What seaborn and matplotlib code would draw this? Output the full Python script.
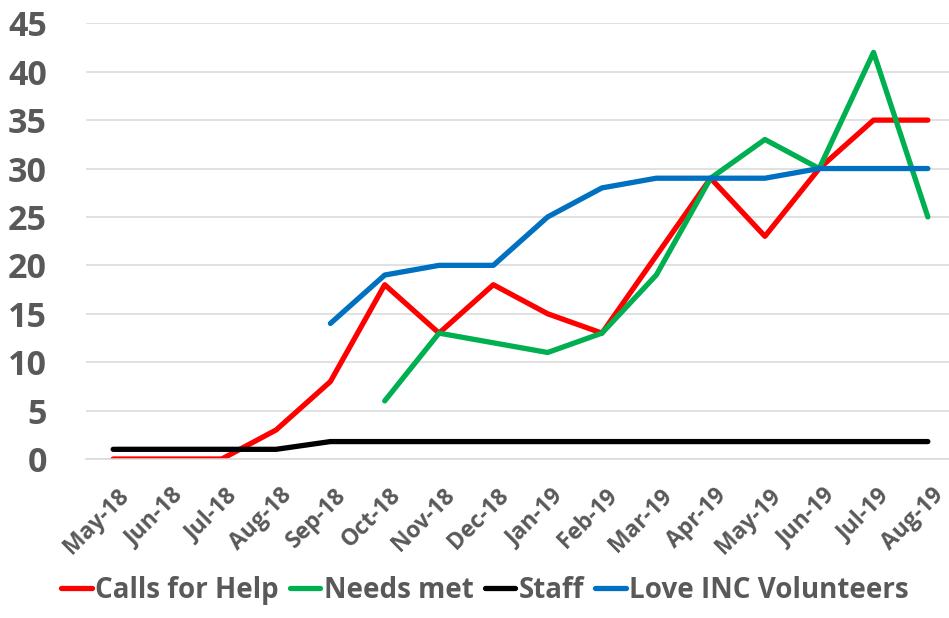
import numpy as np
import pandas as pd
import matplotlib
matplotlib.use("Agg")
import matplotlib.pyplot as plt
import matplotlib.transforms as mtransforms
import seaborn as sns

months = ['May-18', 'Jun-18', 'Jul-18', 'Aug-18', 'Sep-18', 'Oct-18', 'Nov-18', 'Dec-18',
          'Jan-19', 'Feb-19', 'Mar-19', 'Apr-19', 'May-19', 'Jun-19', 'Jul-19', 'Aug-19']
calls = [0, 0, 0, 3, 8, 18, 13, 18, 15, 13, 21, 29, 23, 30, 35, 35]
needs = [np.nan, np.nan, np.nan, np.nan, np.nan, 6, 13, 12, 11, 13, 19, 29, 33, 30, 42, 25]
staff = [1, 1, 1, 1, 1.8, 1.8, 1.8, 1.8, 1.8, 1.8, 1.8, 1.8, 1.8, 1.8, 1.8, 1.8]
volunteers = [np.nan, np.nan, np.nan, np.nan, 14, 19, 20, 20, 25, 28, 29, 29, 29, 30, 30, 30]

series = ['Calls for Help', 'Needs met', 'Staff', 'Love INC Volunteers']
colors = ['#FF0000', '#00B050', '#000000', '#0070C0']

df = pd.DataFrame({'month': months, 'idx': range(len(months)),
                   series[0]: calls, series[1]: needs,
                   series[2]: staff, series[3]: volunteers})
long = df.melt(id_vars=['month', 'idx'], value_vars=series,
               var_name='series', value_name='value').dropna()

sns.set_style('white')
plt.rcParams['font.family'] = ['Open Sans', 'DejaVu Sans']
plt.rcParams['font.weight'] = 'bold'

fig = plt.figure(figsize=(9.49, 6.18), dpi=100)
ax = fig.add_axes([86 / 949, 1 - 459 / 618, 869 / 949, (459 - 23.3) / 618])

sns.lineplot(data=long, x='idx', y='value', hue='series', hue_order=series,
             palette=colors, linewidth=3.8, solid_capstyle='round',
             solid_joinstyle='round', ax=ax, legend=True)

ax.set_xlim(-0.5, len(months) - 0.5)
ax.set_ylim(0, 45)
ax.set_yticks(range(0, 46, 5))
ax.yaxis.grid(True, color='#D9D9D9', linewidth=1.1)
ax.set_axisbelow(True)
for s in ['top', 'right', 'left']:
    ax.spines[s].set_visible(False)
ax.spines['bottom'].set_color('#D9D9D9')
ax.spines['bottom'].set_linewidth(1.1)

# tick marks between categories, labels at category centres
ax.set_xticks(np.arange(-0.5, len(months), 1.0))
ax.set_xticklabels([])
ax.tick_params(axis='x', which='major', length=6, width=1.1, color='#D9D9D9', direction='out')
ax.set_xticks(range(len(months)), minor=True)
ax.set_xticklabels(months, minor=True, rotation=45, ha='right', va='center',
                   rotation_mode='anchor', fontsize=16.5, fontweight='bold', color='#595959')
ax.tick_params(axis='x', which='minor', length=0, pad=24)
offset = mtransforms.ScaledTranslation(0.12, 0, fig.dpi_scale_trans)
for lab in ax.get_xticklabels(minor=True):
    lab.set_transform(lab.get_transform() + offset)

ax.tick_params(axis='y', length=0, pad=28, labelsize=24.5, labelcolor='#595959')
for lab in ax.get_yticklabels():
    lab.set_fontweight('bold')

ax.set_xlabel('')
ax.set_ylabel('')

handles, labels = ax.get_legend_handles_labels()
ax.legend(handles, labels, loc='center', bbox_to_anchor=(0.511, 0.045),
          bbox_transform=fig.transFigure, ncol=4, frameon=False,
          handlelength=1.1, handletextpad=0.12, columnspacing=0.4,
          labelcolor='#595959', prop={'family': ['Open Sans', 'DejaVu Sans'], 'weight': 'bold', 'size': 20})

fig.savefig('out.png', dpi=100)
